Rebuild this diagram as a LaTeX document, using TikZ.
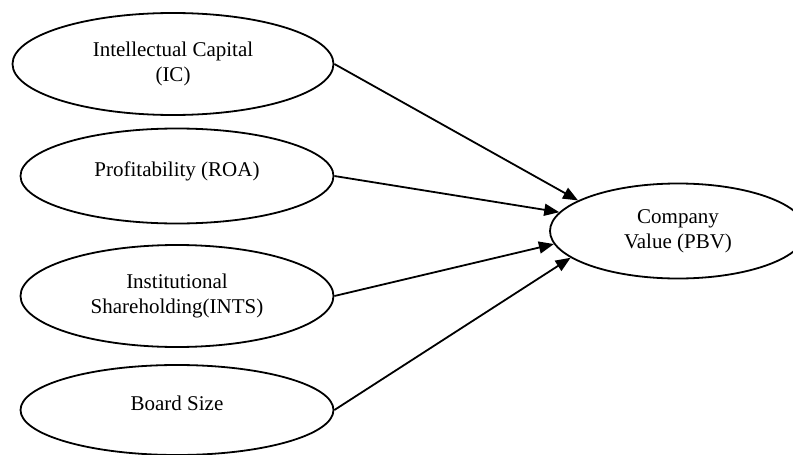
\documentclass[tikz,border=0pt]{standalone}
\usepackage{fontspec}
\setmainfont{Liberation Serif}
\usetikzlibrary{shapes.geometric,arrows.meta}

\tikzset{
  var/.style={draw,ellipse,line width=1.8pt,inner sep=0pt,align=center,
    font=\fontsize{21}{25}\selectfont},
  path/.style={line width=1.8pt,-{Triangle[length=15pt,width=12pt]}}
}

\begin{document}
\begin{tikzpicture}[x=1pt,y=-1pt]

\useasboundingbox (0,0) rectangle (793,455);

% independent variables
\node[var,minimum width=321pt,minimum height=102pt] (ic) at (173,64) {Intellectual Capital\\(IC)};
\node[var,minimum width=313pt,minimum height=95pt,text depth=14pt] (roa) at (177,176) {Profitability (ROA)};
\node[var,minimum width=313pt,minimum height=102pt] (ints) at (177,296) {Institutional\\Shareholding(INTS)};
\node[var,minimum width=313pt,minimum height=90pt,text depth=14pt] (bs) at (177,410) {Board Size};

% dependent variable
\node[var,minimum width=256pt,minimum height=95pt] (pbv) at (678,231) {Company\\Value (PBV)};

% paths
\draw[path] (ic.east) -- (pbv.163);
\draw[path] (roa.east) -- (pbv.171);
\draw[path] (ints.east) -- (pbv.186);
\draw[path] (bs.east) -- (pbv.194);

\end{tikzpicture}
\end{document}
